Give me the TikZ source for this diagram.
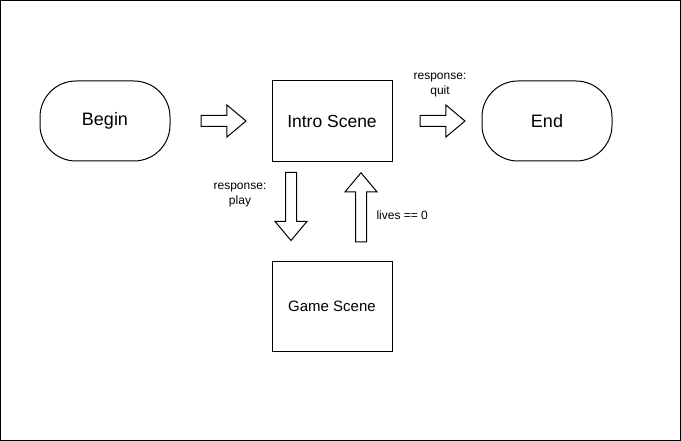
\documentclass[tikz,border=0pt]{standalone}
\usepackage{fontspec}
\setmainfont{Liberation Sans}
\usetikzlibrary{calc}
\usetikzlibrary{positioning}
\usetikzlibrary{shapes.arrows}

\begin{document}
\begin{tikzpicture}[x=1pt, y=-1pt,
      terminal/.style ={rectangle, rounded corners=36pt, draw, line width=1pt, minimum width=130pt, minimum height=80pt, font=\fontsize{18}{20}\selectfont},
      scene/.style ={rectangle, draw, line width=1pt, minimum width=120pt},
      flow/.style ={single arrow, draw, line width=1pt, fill=white, inner sep=5pt, single arrow head extend=10.5pt, single arrow tip angle=80},
      lbl/.style ={align=center, font=\fontsize{12}{15}\selectfont},
      node distance=10mm
    ]
    \useasboundingbox (0,0) rectangle (681,441);
    \draw [line width=1pt] (0.5,0.5) rectangle (680.5,440.5);

    \node [terminal] (begin) at (105,121) {Begin} ;
    \node [scene, minimum height=81pt, font=\fontsize{17.5}{20}\selectfont] (intro) [right=101pt of begin] {Intro Scene} ;
    \node [terminal] (end) [right=89pt of intro] {End} ;
    \node [scene, minimum height=90pt, font=\fontsize{15}{18}\selectfont] (game) [below=99pt of intro] {Game Scene} ;

    \node [flow, minimum height=45pt, anchor=tail] (toIntro) at ($(begin.east)+(30,0)$) {} ;
    \node [flow, minimum height=45pt, anchor=tail] (toEnd) at ($(intro.east)+(27,0)$) {} ;
    \node [flow, minimum height=68pt, shape border rotate=270, anchor=tail] (toGame) at ($(intro.south)+(-41,10)$) {} ;
    \node [flow, minimum height=69pt, shape border rotate=90, anchor=tip] (toIntro2) at ($(intro.south)+(29,10)$) {} ;

    \node [lbl] (quit) at (440,85.5) {response:\\quit} ;
    \node [lbl] (play) at (240,195.5) {response:\\play} ;
    \node [lbl, anchor=west] (lives) at (373,215) {lives == 0} ;
  \end{tikzpicture}
\end{document}
